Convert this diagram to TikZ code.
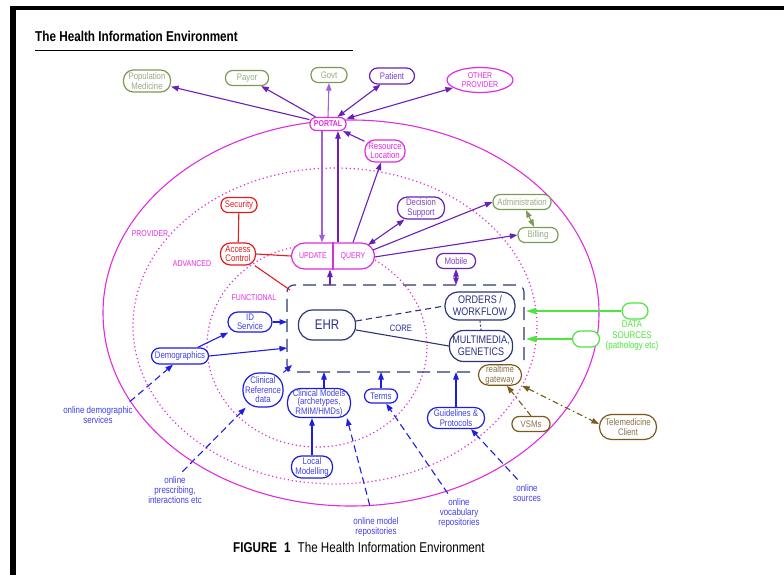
\documentclass[tikz,border=0pt]{standalone}
\usepackage{fontspec}
\setmainfont[FakeStretch=0.82]{Liberation Sans}
\usetikzlibrary{arrows.meta, positioning, shapes.geometric, calc}
\definecolor{zonemag}{HTML}{E02CE0}
\definecolor{purp}{HTML}{6A1FB8}
\definecolor{lightviol}{HTML}{A060DC}
\definecolor{corenavy}{HTML}{2B3578}
\definecolor{funcblue}{HTML}{1E1EE0}
\definecolor{secred}{HTML}{E01E1E}
\definecolor{olive}{HTML}{7C9A55}
\definecolor{olivetext}{HTML}{98AC84}
\definecolor{srcgreen}{HTML}{4CE63C}
\definecolor{rtbrown}{HTML}{7A5A1C}
\definecolor{rttext}{HTML}{8A7248}

\begin{document}
\begin{tikzpicture}[
  x=1pt, y=-1pt,
  >={Triangle[length=7.5pt,width=5.5pt]},
  box/.style={draw, fill=white, rounded corners=7pt, line width=1.2pt, inner sep=1pt, align=center, font=\fontsize{9.5}{9.5}\selectfont},
  dims/.style 2 args={minimum width=#1pt, minimum height=#2pt},
  olivebox/.style={box, draw=olive, text=olivetext},
  purpbox/.style={box, draw=purp, text=purp!85},
  magbox/.style={box, draw=zonemag, text=zonemag},
  redbox/.style={box, draw=secred, text=secred},
  corebox/.style={box, draw=corenavy, text=corenavy!90!blue, font=\fontsize{11}{12}\selectfont},
  funcbox/.style={box, draw=funcblue, text=funcblue!85},
  rtbox/.style={box, draw=rtbrown, text=rttext},
  srcbox/.style={box, draw=srcgreen},
  zonelabel/.style={font=\fontsize{8.5}{9}\selectfont, text=zonemag},
  online/.style={font=\fontsize{9.7}{9.8}\selectfont, text=funcblue!85, align=center},
  link/.style={->, line width=1.1pt},
  zonedot/.style={line width=1.2pt, dash pattern=on 1.2pt off 2.8pt},
  onlinedash/.style={dash pattern=on 7pt off 4pt, shorten <=2pt},
  rtdash/.style={dash pattern=on 6pt off 3pt on 1.5pt off 3pt},
  srcarrow/.style={-{Triangle[length=10pt,width=6pt]}, line width=1.3pt, srcgreen}
]
  % Frame and title
  \useasboundingbox (0,0) rectangle (784,575);
  \fill[black] (10,6) rectangle (784,10.5);
  \fill[black] (10,6) rectangle (16,575);
  \node[anchor=base west, inner sep=0pt, font=\fontsize{14.3}{16}\selectfont\bfseries] (title) at (35,42) {The Health Information Environment};
  \draw[line width=0.8pt] (35,50) -- (353,50);
  \node[anchor=base west, inner sep=0pt, font=\fontsize{14.2}{16}\selectfont] (caption) at (233,552) {\textbf{FIGURE\hspace{7pt}1}\hspace{7pt}The Health Information Environment};

  % Zones
  \draw[zonemag, line width=1.1pt] (351,313) ellipse [x radius=248pt, y radius=193pt];
  \draw[zonemag, zonedot] (335,326) ellipse [x radius=202pt, y radius=158pt];
  \draw[zonemag, zonedot] (317,346) ellipse [x radius=110pt, y radius=101pt];
  \node[zonelabel] (lprov) at (150,234) {PROVIDER};
  \node[zonelabel] (ladv) at (192,264) {ADVANCED};
  \node[zonelabel] (lfunc) at (254,298) {FUNCTIONAL};

  % Core frame
  \draw[corenavy, line width=1.1pt, dash pattern=on 13pt off 7pt, rounded corners=7pt] (470,372) -- (287,372) -- (287,285) -- (524,285) -- (524,364);
  \node[font=\fontsize{9.3}{10}\selectfont, text=corenavy!80!blue] (lcore) at (401,328) {CORE};
  \coordinate (cL1) at (287,322);
  \coordinate (cL2) at (287,348);
  \coordinate (cBL) at (292,365);
  \coordinate (cB1) at (324,372);
  \coordinate (cB2) at (381,372);
  \coordinate (cB3) at (456,372);
  \coordinate (cT1) at (330,285);
  \coordinate (cT2) at (456,285);
  \coordinate (cTL) at (290,290);
  \coordinate (cR1) at (526,311);
  \coordinate (cR2) at (526,339);

  % External parties
  \node[olivebox, dims={47}{22}, rounded corners=10pt] (popmed) at (147,81) {Population\\Medicine};
  \node[olivebox, dims={43}{15}] (payor) at (247,78) {Payor};
  \node[olivebox, dims={36}{15}] (govt) at (329,75) {Govt};
  \node[purpbox, dims={45}{16}, rounded corners=8pt] (patient) at (392,76) {Patient};
  \node[magbox, ellipse, dims={66}{25}, font=\fontsize{8.5}{9.5}\selectfont] (otherprov) at (480,80) {OTHER\\PROVIDER};
  \node[magbox, dims={36}{13}, rounded corners=6pt, font=\fontsize{8.5}{9}\selectfont\bfseries] (portal) at (328,124) {PORTAL};
  \node[magbox, dims={40}{22}, rounded corners=10pt] (resloc) at (385,151) {Resource\\Location};

  % Advanced services
  \node[redbox, dims={36}{15}] (security) at (239,205) {Security};
  \node[redbox, dims={35}{22}, rounded corners=10pt] (access) at (238,254) {Access\\Control};
  \node[magbox, dims={83}{26}, rounded corners=13pt, font=\fontsize{8.5}{9}\selectfont] (updq) at (333,256) {\makebox[40pt]{UPDATE}\makebox[40pt]{QUERY}};
  \draw[zonemag, line width=1.1pt] (updq.north) -- (updq.south);
  \node[purpbox, dims={47}{22}, rounded corners=10pt] (decsup) at (421,208) {Decision\\Support};
  \node[olivebox, dims={58}{15}] (admin) at (522,202) {Administration};
  \node[olivebox, dims={40}{15}] (billing) at (538,235) {Billing};
  \node[purpbox, dims={39}{15}] (mobile) at (456,261) {Mobile};

  % Core
  \node[corebox, dims={57}{30}, rounded corners=14pt, font=\fontsize{14}{15}\selectfont] (ehr) at (327,325) {EHR};
  \node[corebox, dims={70}{28}, rounded corners=13pt] (orders) at (480,306) {ORDERS /\\WORKFLOW};
  \node[corebox, dims={63}{31}, rounded corners=14pt] (multi) at (481,346) {MULTIMEDIA,\\GENETICS};

  % Functional services
  \node[funcbox, dims={44}{20}, rounded corners=10pt] (idserv) at (250,322) {ID\\Service};
  \node[funcbox, dims={57}{16}, rounded corners=8pt] (demog) at (180,356) {Demographics};
  \node[funcbox, dims={40}{34}, rounded corners=16pt] (clinref) at (263,390) {Clinical\\Reference\\data};
  \node[funcbox, dims={63}{28}, rounded corners=13pt, font=\fontsize{9.5}{8.4}\selectfont] (clinmod) at (319,403) {Clinical Models\\(archetypes,\\RMIM/HMDs)};
  \node[funcbox, dims={33}{14}] (terms) at (381,396) {Terms};
  \node[funcbox, dims={41}{22}, rounded corners=10pt] (localmod) at (312,467) {Local\\Modelling};
  \node[funcbox, dims={57}{21}, rounded corners=10pt] (guide) at (456,418) {Guidelines \&\\Protocols};

  % Realtime and data sources
  \node[rtbox, dims={43}{20}, rounded corners=10pt] (gateway) at (500,375) {realtime\\gateway};
  \node[rtbox, dims={38}{15}] (vsms) at (531,424) {VSMs};
  \node[rtbox, dims={57}{25}, rounded corners=12pt] (tele) at (628,427) {Telemedicine\\Client};
  \node[srcbox, dims={26}{16}, rounded corners=8pt] (srcA) at (635,311) {};
  \node[srcbox, dims={27}{16}, rounded corners=8pt] (srcB) at (586,339) {};
  \node[font=\fontsize{9.7}{10.5}\selectfont, text=srcgreen, align=center] (srclabel) at (632,336) {DATA\\SOURCES\\(pathology etc)};

  % Online sources
  \node[online] (onldemo) at (98,415) {online demographic\\services};
  \node[online] (onlpresc) at (175,490) {online\\prescribing,\\interactions etc};
  \node[online] (onlmodel) at (376,527) {online model\\repositories};
  \node[online] (onlvocab) at (459,513) {online\\vocabulary\\repositories};
  \node[online] (onlsrc) at (527,493) {online\\sources};

  % Portal links
  \draw[link, purp] (portal) -- (popmed);
  \draw[link, purp] (portal) -- (payor);
  \draw[link, lightviol] (portal.north) -- (govt.south);
  \draw[link, purp, <->] (portal) -- (patient);
  \draw[link, purp, <->] (portal) -- (otherprov);
  \draw[link, lightviol] ([xshift=-6pt]portal.south) -- ([xshift=-11pt]updq.north);
  \draw[link, purp] ([xshift=5pt]updq.north) -- ([xshift=10pt]portal.south);
  \draw[link, purp] ([xshift=20pt]updq.north) -- (resloc);
  \draw[link, purp] (resloc) -- (portal);

  % Query links
  \draw[link, purp, <->] ([xshift=35pt,yshift=11pt]updq.center) -- (decsup);
  \draw[link, purp] ([xshift=40pt,yshift=6pt]updq.center) -- (admin.west);
  \draw[link, purp] ([xshift=41.5pt,yshift=-1pt]updq.center) -- (billing.west);
  \draw[link, olive, <->] (admin) -- (billing);
  \draw[link, purp, <->] (mobile.south) -- (cT2);
  \draw[link, purp] (cT1) -- ([xshift=-3pt]updq.south);

  % Security
  \draw[secred, line width=1.1pt] (security) -- (access);
  \draw[secred, line width=1.1pt] (access.east) -- (updq.west);
  \draw[secred, line width=1.1pt] (access) -- (cTL);

  % Core links
  \draw[corenavy, line width=1.1pt, dash pattern=on 6pt off 4pt] ([yshift=4pt]ehr.east) -- (orders.west);
  \draw[corenavy, line width=1.1pt] ([yshift=-5pt]ehr.east) -- (multi.west);
  \draw[corenavy, line width=1.1pt, dash pattern=on 2pt off 2pt] (orders.south) -- (multi.north);

  % Data sources
  \draw[srcarrow] (srcA.west) -- (cR1);
  \draw[srcarrow] (srcB.west) -- (cR2);

  % Functional links
  \draw[link, funcblue] (demog) -- (idserv);
  \draw[link, funcblue] (idserv.east) -- (cL1);
  \draw[link, funcblue] (demog.east) -- (cL2);
  \draw[link, funcblue] (clinref) -- (cBL);
  \draw[link, funcblue] ([xshift=5pt]clinmod.north) -- (cB1);
  \draw[link, funcblue] (terms.north) -- (cB2);
  \draw[link, funcblue] (guide.north) -- (cB3);
  \draw[link, funcblue] (localmod.north) -- ([xshift=-7pt]clinmod.south);

  % Online feeds
  \draw[link, funcblue, onlinedash] ([xshift=-8pt]onldemo.north east) -- ([xshift=-7pt]demog.south);
  \draw[link, funcblue, onlinedash] ([xshift=6pt]onlpresc.north) -- (clinref);
  \draw[link, funcblue, onlinedash, shorten <=9pt] ([xshift=-4pt]onlmodel.north) -- ([xshift=28pt]clinmod.south);
  \draw[link, funcblue, onlinedash] ([xshift=-10pt]onlvocab.north) -- (terms);
  \draw[link, funcblue, onlinedash] ([xshift=-8pt]onlsrc.north) -- ([xshift=15pt]guide.south);

  % Realtime
  \draw[link, rtbrown, rtdash] (vsms.north) -- ([xshift=7pt]gateway.south);
  \draw[link, rtbrown, rtdash, <->] (gateway.south east) -- ([yshift=3pt]tele.west);
\end{tikzpicture}
\end{document}
